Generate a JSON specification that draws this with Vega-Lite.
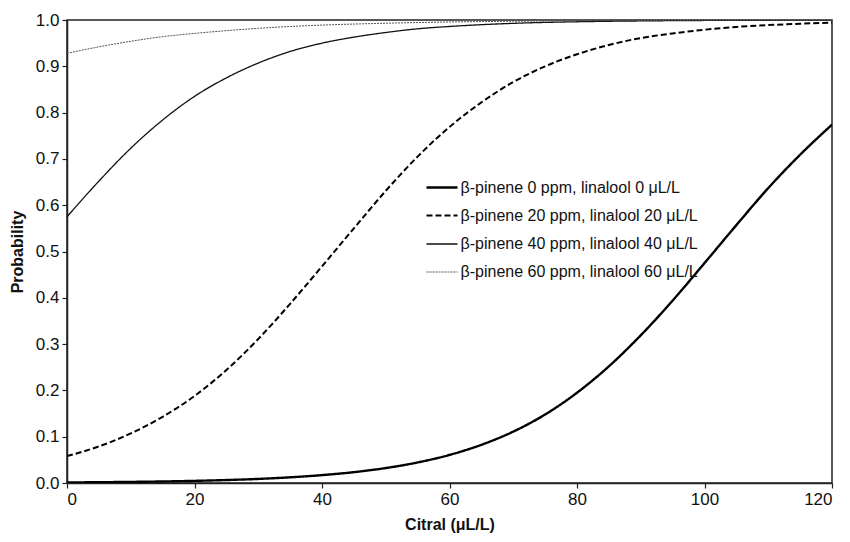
{
  "$schema": "https://vega.github.io/schema/vega-lite/v6.json",
  "autosize": "none",
  "padding": {"left": 67, "top": 20, "right": 18, "bottom": 59},
  "width": 765,
  "height": 463,
  "background": "white",
  "config": {
    "font": "Liberation Sans",
    "view": {"stroke": "#222", "strokeWidth": 1.5},
    "axis": {"grid": false, "domainColor": "#222", "domainWidth": 1.5, "tickColor": "#222", "tickWidth": 1.2, "tickSize": 5, "labelColor": "#111", "labelFontSize": 17, "labelPadding": 3, "titleColor": "#111", "titleFontSize": 16, "titleFontWeight": "bold", "labelFont": "Liberation Sans", "titleFont": "Liberation Sans"},
    "legend": {"title": null, "orient": "none", "legendX": 358, "legendY": 150.5, "symbolType": "stroke", "symbolSize": 961, "labelFontSize": 16, "labelColor": "#111", "labelFont": "Liberation Sans", "rowPadding": 3.5, "labelOffset": 1.5, "labelLimit": 400}
  },
  "datasets": {
    "curves": [
      {"x": 0, "p": 0.0012, "s": "β-pinene 0 ppm, linalool 0 μL/L"},
      {"x": 5, "p": 0.0017, "s": "β-pinene 0 ppm, linalool 0 μL/L"},
      {"x": 10, "p": 0.0024, "s": "β-pinene 0 ppm, linalool 0 μL/L"},
      {"x": 15, "p": 0.0033, "s": "β-pinene 0 ppm, linalool 0 μL/L"},
      {"x": 20, "p": 0.0046, "s": "β-pinene 0 ppm, linalool 0 μL/L"},
      {"x": 25, "p": 0.0064, "s": "β-pinene 0 ppm, linalool 0 μL/L"},
      {"x": 30, "p": 0.0088, "s": "β-pinene 0 ppm, linalool 0 μL/L"},
      {"x": 35, "p": 0.0123, "s": "β-pinene 0 ppm, linalool 0 μL/L"},
      {"x": 40, "p": 0.017, "s": "β-pinene 0 ppm, linalool 0 μL/L"},
      {"x": 45, "p": 0.0234, "s": "β-pinene 0 ppm, linalool 0 μL/L"},
      {"x": 50, "p": 0.0323, "s": "β-pinene 0 ppm, linalool 0 μL/L"},
      {"x": 55, "p": 0.0444, "s": "β-pinene 0 ppm, linalool 0 μL/L"},
      {"x": 60, "p": 0.0607, "s": "β-pinene 0 ppm, linalool 0 μL/L"},
      {"x": 65, "p": 0.0825, "s": "β-pinene 0 ppm, linalool 0 μL/L"},
      {"x": 70, "p": 0.111, "s": "β-pinene 0 ppm, linalool 0 μL/L"},
      {"x": 75, "p": 0.148, "s": "β-pinene 0 ppm, linalool 0 μL/L"},
      {"x": 80, "p": 0.195, "s": "β-pinene 0 ppm, linalool 0 μL/L"},
      {"x": 85, "p": 0.252, "s": "β-pinene 0 ppm, linalool 0 μL/L"},
      {"x": 90, "p": 0.319, "s": "β-pinene 0 ppm, linalool 0 μL/L"},
      {"x": 95, "p": 0.394, "s": "β-pinene 0 ppm, linalool 0 μL/L"},
      {"x": 100, "p": 0.475, "s": "β-pinene 0 ppm, linalool 0 μL/L"},
      {"x": 105, "p": 0.557, "s": "β-pinene 0 ppm, linalool 0 μL/L"},
      {"x": 110, "p": 0.637, "s": "β-pinene 0 ppm, linalool 0 μL/L"},
      {"x": 115, "p": 0.709, "s": "β-pinene 0 ppm, linalool 0 μL/L"},
      {"x": 120, "p": 0.774, "s": "β-pinene 0 ppm, linalool 0 μL/L"},

      {"x": 0, "p": 0.058, "s": "β-pinene 20 ppm, linalool 20 μL/L"},
      {"x": 5, "p": 0.079, "s": "β-pinene 20 ppm, linalool 20 μL/L"},
      {"x": 10, "p": 0.107, "s": "β-pinene 20 ppm, linalool 20 μL/L"},
      {"x": 15, "p": 0.143, "s": "β-pinene 20 ppm, linalool 20 μL/L"},
      {"x": 20, "p": 0.188, "s": "β-pinene 20 ppm, linalool 20 μL/L"},
      {"x": 25, "p": 0.244, "s": "β-pinene 20 ppm, linalool 20 μL/L"},
      {"x": 30, "p": 0.311, "s": "β-pinene 20 ppm, linalool 20 μL/L"},
      {"x": 35, "p": 0.387, "s": "β-pinene 20 ppm, linalool 20 μL/L"},
      {"x": 40, "p": 0.468, "s": "β-pinene 20 ppm, linalool 20 μL/L"},
      {"x": 45, "p": 0.55, "s": "β-pinene 20 ppm, linalool 20 μL/L"},
      {"x": 50, "p": 0.631, "s": "β-pinene 20 ppm, linalool 20 μL/L"},
      {"x": 55, "p": 0.705, "s": "β-pinene 20 ppm, linalool 20 μL/L"},
      {"x": 60, "p": 0.769, "s": "β-pinene 20 ppm, linalool 20 μL/L"},
      {"x": 65, "p": 0.822, "s": "β-pinene 20 ppm, linalool 20 μL/L"},
      {"x": 70, "p": 0.866, "s": "β-pinene 20 ppm, linalool 20 μL/L"},
      {"x": 75, "p": 0.9, "s": "β-pinene 20 ppm, linalool 20 μL/L"},
      {"x": 80, "p": 0.926, "s": "β-pinene 20 ppm, linalool 20 μL/L"},
      {"x": 85, "p": 0.946, "s": "β-pinene 20 ppm, linalool 20 μL/L"},
      {"x": 90, "p": 0.961, "s": "β-pinene 20 ppm, linalool 20 μL/L"},
      {"x": 95, "p": 0.971, "s": "β-pinene 20 ppm, linalool 20 μL/L"},
      {"x": 100, "p": 0.979, "s": "β-pinene 20 ppm, linalool 20 μL/L"},
      {"x": 105, "p": 0.985, "s": "β-pinene 20 ppm, linalool 20 μL/L"},
      {"x": 110, "p": 0.989, "s": "β-pinene 20 ppm, linalool 20 μL/L"},
      {"x": 115, "p": 0.992, "s": "β-pinene 20 ppm, linalool 20 μL/L"},
      {"x": 120, "p": 0.9945, "s": "β-pinene 20 ppm, linalool 20 μL/L"},

      {"x": 0, "p": 0.575, "s": "β-pinene 40 ppm, linalool 40 μL/L"},
      {"x": 5, "p": 0.652, "s": "β-pinene 40 ppm, linalool 40 μL/L"},
      {"x": 10, "p": 0.723, "s": "β-pinene 40 ppm, linalool 40 μL/L"},
      {"x": 15, "p": 0.784, "s": "β-pinene 40 ppm, linalool 40 μL/L"},
      {"x": 20, "p": 0.835, "s": "β-pinene 40 ppm, linalool 40 μL/L"},
      {"x": 25, "p": 0.875, "s": "β-pinene 40 ppm, linalool 40 μL/L"},
      {"x": 30, "p": 0.907, "s": "β-pinene 40 ppm, linalool 40 μL/L"},
      {"x": 35, "p": 0.932, "s": "β-pinene 40 ppm, linalool 40 μL/L"},
      {"x": 40, "p": 0.95, "s": "β-pinene 40 ppm, linalool 40 μL/L"},
      {"x": 45, "p": 0.963, "s": "β-pinene 40 ppm, linalool 40 μL/L"},
      {"x": 50, "p": 0.973, "s": "β-pinene 40 ppm, linalool 40 μL/L"},
      {"x": 55, "p": 0.981, "s": "β-pinene 40 ppm, linalool 40 μL/L"},
      {"x": 60, "p": 0.986, "s": "β-pinene 40 ppm, linalool 40 μL/L"},
      {"x": 70, "p": 0.9928, "s": "β-pinene 40 ppm, linalool 40 μL/L"},
      {"x": 80, "p": 0.9962, "s": "β-pinene 40 ppm, linalool 40 μL/L"},
      {"x": 90, "p": 0.998, "s": "β-pinene 40 ppm, linalool 40 μL/L"},
      {"x": 100, "p": 0.999, "s": "β-pinene 40 ppm, linalool 40 μL/L"},
      {"x": 110, "p": 0.9995, "s": "β-pinene 40 ppm, linalool 40 μL/L"},
      {"x": 120, "p": 0.9997, "s": "β-pinene 40 ppm, linalool 40 μL/L"},

      {"x": 0, "p": 0.928, "s": "β-pinene 60 ppm, linalool 60 μL/L"},
      {"x": 5, "p": 0.942, "s": "β-pinene 60 ppm, linalool 60 μL/L"},
      {"x": 10, "p": 0.954, "s": "β-pinene 60 ppm, linalool 60 μL/L"},
      {"x": 15, "p": 0.964, "s": "β-pinene 60 ppm, linalool 60 μL/L"},
      {"x": 20, "p": 0.971, "s": "β-pinene 60 ppm, linalool 60 μL/L"},
      {"x": 25, "p": 0.977, "s": "β-pinene 60 ppm, linalool 60 μL/L"},
      {"x": 30, "p": 0.982, "s": "β-pinene 60 ppm, linalool 60 μL/L"},
      {"x": 35, "p": 0.986, "s": "β-pinene 60 ppm, linalool 60 μL/L"},
      {"x": 40, "p": 0.989, "s": "β-pinene 60 ppm, linalool 60 μL/L"},
      {"x": 50, "p": 0.993, "s": "β-pinene 60 ppm, linalool 60 μL/L"},
      {"x": 60, "p": 0.9957, "s": "β-pinene 60 ppm, linalool 60 μL/L"},
      {"x": 70, "p": 0.9973, "s": "β-pinene 60 ppm, linalool 60 μL/L"},
      {"x": 80, "p": 0.9983, "s": "β-pinene 60 ppm, linalool 60 μL/L"},
      {"x": 90, "p": 0.999, "s": "β-pinene 60 ppm, linalool 60 μL/L"},
      {"x": 100, "p": 0.9994, "s": "β-pinene 60 ppm, linalool 60 μL/L"},
      {"x": 110, "p": 0.9996, "s": "β-pinene 60 ppm, linalool 60 μL/L"},
      {"x": 120, "p": 0.9997, "s": "β-pinene 60 ppm, linalool 60 μL/L"}
    ]
  },
  "data": {"name": "curves"},
  "mark": {"type": "line", "interpolate": "monotone", "clip": true},
  "encoding": {
    "x": {"field": "x", "type": "quantitative", "scale": {"domain": [0, 120], "nice": false, "zero": false}, "axis": {"values": [0, 20, 40, 60, 80, 100, 120], "title": "Citral (μL/L)", "titlePadding": 9}},
    "y": {"field": "p", "type": "quantitative", "scale": {"domain": [0, 1], "nice": false}, "axis": {"values": [0, 0.1, 0.2, 0.3, 0.4, 0.5, 0.6, 0.7, 0.8, 0.9, 1.0], "format": ".1f", "title": "Probability", "titlePadding": 10}},
    "color": {"field": "s", "type": "nominal", "scale": {"domain": ["β-pinene 0 ppm, linalool 0 μL/L", "β-pinene 20 ppm, linalool 20 μL/L", "β-pinene 40 ppm, linalool 40 μL/L", "β-pinene 60 ppm, linalool 60 μL/L"], "range": ["#000000", "#000000", "#111111", "#555555"]}},
    "strokeDash": {"field": "s", "type": "nominal", "scale": {"domain": ["β-pinene 0 ppm, linalool 0 μL/L", "β-pinene 20 ppm, linalool 20 μL/L", "β-pinene 40 ppm, linalool 40 μL/L", "β-pinene 60 ppm, linalool 60 μL/L"], "range": [[1, 0], [6, 3], [1, 0], [2, 1]]}},
    "strokeWidth": {"field": "s", "type": "nominal", "scale": {"type": "ordinal", "domain": ["β-pinene 0 ppm, linalool 0 μL/L", "β-pinene 20 ppm, linalool 20 μL/L", "β-pinene 40 ppm, linalool 40 μL/L", "β-pinene 60 ppm, linalool 60 μL/L"], "range": [2.4, 2, 1.3, 1]}}
  }
}
